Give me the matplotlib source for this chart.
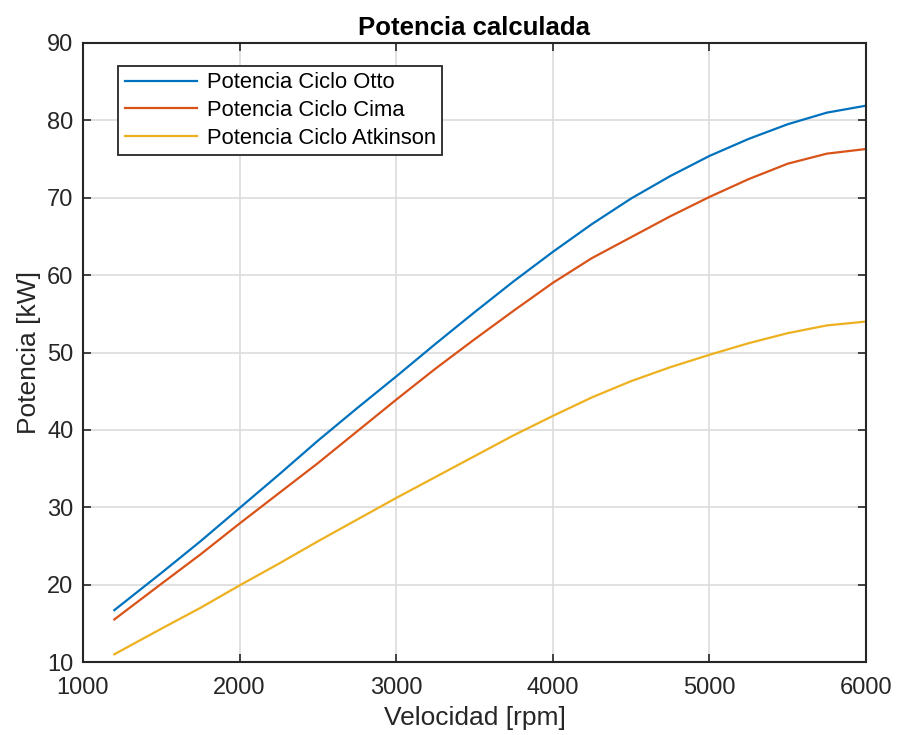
import matplotlib
matplotlib.use("Agg")
import matplotlib.pyplot as plt

rpm = [1200, 1500, 1750, 2000, 2250, 2500, 2750, 3000, 3250, 3500, 3750,
       4000, 4250, 4500, 4750, 5000, 5250, 5500, 5750, 6000]
p_otto = [16.7, 21.5, 25.6, 29.9, 34.2, 38.6, 42.8, 46.9, 51.1, 55.2, 59.2,
          63.0, 66.6, 69.9, 72.8, 75.4, 77.6, 79.5, 81.0, 81.9]
p_cima = [15.5, 20.1, 23.9, 27.9, 31.8, 35.7, 39.8, 43.9, 47.9, 51.7, 55.4,
          59.0, 62.2, 64.9, 67.6, 70.1, 72.4, 74.4, 75.7, 76.3]
p_atk = [11.0, 14.3, 17.0, 19.9, 22.7, 25.6, 28.4, 31.2, 33.9, 36.6, 39.3,
         41.8, 44.2, 46.3, 48.1, 49.7, 51.2, 52.5, 53.5, 54.0]
labels = ["Potencia Ciclo Otto", "Potencia Ciclo Cima", "Potencia Ciclo Atkinson"]
xticks = [1000, 2000, 3000, 4000, 5000, 6000]
yticks = [10, 20, 30, 40, 50, 60, 70, 80, 90]

plt.rcParams['font.family'] = ['Liberation Sans', 'DejaVu Sans']
dark = '#262626'

fig = plt.figure(figsize=(9, 7.35), dpi=100)
ax = fig.add_axes([0.0922, 0.0993, 0.8700, 0.8422])
ax.plot(rpm, p_otto, color='#0072BD', lw=1.6, label=labels[0])
ax.plot(rpm, p_cima, color='#D95319', lw=1.6, label=labels[1])
ax.plot(rpm, p_atk, color='#EDB120', lw=1.6, label=labels[2])

ax.set_xlim(1000, 6000)
ax.set_ylim(10, 90)
ax.set_xticks(xticks)
ax.set_yticks(yticks)
ax.grid(True, color='#dcdcdc', lw=1.2)
ax.set_axisbelow(True)
ax.tick_params(direction='in', length=6, width=1.2, colors=dark, labelsize=17,
               top=True, right=True, labelcolor=dark)
ax.tick_params(axis='x', pad=11)
ax.tick_params(axis='y', pad=7)
for s in ax.spines.values():
    s.set_color(dark)
    s.set_linewidth(1.5)
ax.set_xlabel('Velocidad [rpm]', fontsize=19, color=dark, labelpad=5)
ax.set_ylabel('Potencia [kW]', fontsize=19, color=dark, labelpad=4)
ax.set_title('Potencia calculada', fontsize=18.5, fontweight='bold', color='black', pad=6)
leg = ax.legend(loc='upper left', bbox_to_anchor=(0.0447, 0.963), fontsize=15.8, fancybox=False,
                edgecolor=dark, framealpha=1, borderpad=0.3, labelspacing=0.3,
                handlelength=3.3, handletextpad=0.45, borderaxespad=0)
leg.get_frame().set_linewidth(1.3)
fig.savefig('out.png', dpi=100)
